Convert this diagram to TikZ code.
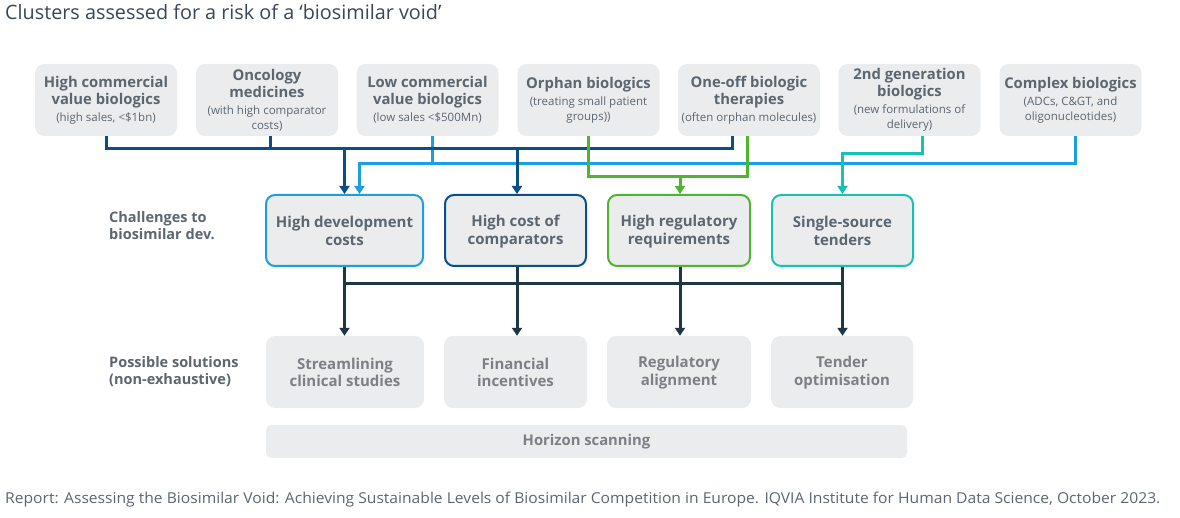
\documentclass[tikz,border=0pt]{standalone}
\usepackage{fontspec}
\setmainfont{Open Sans}
\usetikzlibrary{arrows.meta}
\definecolor{dblue}{HTML}{0B4F8A}
\definecolor{lblue}{HTML}{1AA0E0}
\definecolor{grn}{HTML}{4DB530}
\definecolor{teal}{HTML}{17C1B5}
\definecolor{navy}{HTML}{1D3744}
\definecolor{boxfill}{HTML}{EBECEE}
\definecolor{txtgray}{HTML}{5B6670}
\definecolor{soltxt}{HTML}{7C8086}
\definecolor{titlec}{HTML}{3A4656}
\newcommand{\ttlf}{\fontsize{14.8}{17}\selectfont\bfseries}
\newcommand{\subf}{\fontsize{11.5}{15}\selectfont}
\newcommand{\lst}{\rule[-0.8pt]{0pt}{13.8pt}}
\begin{document}
\begin{tikzpicture}[x=1pt,y=-1pt,
  topbox/.style={rounded corners=9pt, fill=boxfill, minimum width=142pt, minimum height=72pt, inner sep=0pt, align=center, text=txtgray, font=\fontsize{14.8}{17}\selectfont},
  chalbox/.style={rounded corners=9pt, fill=boxfill, line width=2pt, minimum height=71pt, inner sep=0pt, align=center, text=txtgray, font=\fontsize{15}{18}\selectfont\bfseries},
  solbox/.style={rounded corners=9pt, fill=boxfill, minimum height=72pt, inner sep=0pt, align=center, text=soltxt, font=\fontsize{15}{17.5}\selectfont\bfseries},
  sidelabel/.style={anchor=west, align=left, inner sep=0pt, text=txtgray, font=\fontsize{14.5}{17.5}\selectfont\bfseries},
  conn/.style={line width=3pt},
  arr/.style={-{Triangle[width=10pt,length=8pt]}}
]
\useasboundingbox (0,0) rectangle (1180,518);

% title
\node[anchor=base west, inner sep=0pt, text=titlec, font=\fontsize{19.8}{24}\selectfont] (title) at (5,19.5) {Clusters assessed for a risk of a ‘biosimilar void’};

% top boxes
\node[topbox] (t1) at (106,100) {{\ttlf High commercial}\\{\ttlf value biologics}\\{\subf (high sales, <\$1bn)}};
\node[topbox] (t2) at (267,100) {{\ttlf Oncology}\\{\ttlf medicines}\\{\subf (with high comparator}\\[-2pt]{\subf costs)}};
\node[topbox] (t3) at (427.5,100) {{\ttlf Low commercial}\\{\ttlf value biologics}\\{\subf (low sales <\$500Mn)}};
\node[topbox] (t4) at (588.5,100) {{\ttlf Orphan biologics}\\{\subf (treating small patient}\\[-2pt]{\subf groups))}};
\node[topbox] (t5) at (749,100) {{\ttlf One-off biologic}\\{\ttlf therapies}\\{\subf (often orphan molecules)}};
\node[topbox] (t6) at (909.5,100) {{\ttlf 2nd generation}\\{\ttlf biologics}\\{\subf (new formulations of}\\[-2pt]{\subf delivery)}};
\node[topbox] (t7) at (1070.5,100) {{\ttlf Complex biologics}\\{\subf (ADCs, C\&GT, and}\\[-2pt]{\subf oligonucleotides)}};

% challenge boxes
\node[chalbox, draw=lblue, minimum width=157pt] (c1) at (344.5,230.5) {\lst High development\\\lst costs};
\node[chalbox, draw=dblue, minimum width=141pt] (c2) at (515.5,230.5) {\lst High cost of\\\lst comparators};
\node[chalbox, draw=grn, minimum width=142pt] (c3) at (679,230.5) {\lst High regulatory\\\lst requirements};
\node[chalbox, draw=teal, minimum width=141pt] (c4) at (842.5,230.5) {\lst Single-source\\\lst tenders};

% solution boxes
\node[solbox, minimum width=158pt] (s1) at (345,372) {\lst Streamlining\\\lst clinical studies};
\node[solbox, minimum width=143pt] (s2) at (515.5,372) {\lst Financial\\\lst incentives};
\node[solbox, minimum width=144pt] (s3) at (679,372) {\lst Regulatory\\\lst alignment};
\node[solbox, minimum width=142pt] (s4) at (842,372) {\lst Tender\\\lst optimisation};
\node[rounded corners=5pt, fill=boxfill, minimum width=641pt, minimum height=33pt, inner sep=0pt, text=soltxt, font=\fontsize{14.8}{17}\selectfont\bfseries] (h) at (586.5,441.5) {Horizon scanning};

% side labels
\node[sidelabel] (lab1) at (109,225.5) {Challenges to\\biosimilar dev.};
\node[sidelabel] (lab2) at (109,371.5) {Possible solutions\\(non-exhaustive)};

% junction coordinates
\coordinate (dbY) at (0,149);
\coordinate (lbY) at (0,164);
\coordinate (gY) at (0,177);
\coordinate (tY) at (0,154);
\coordinate (nY) at (0,284);

% light blue (drawn first)
\draw[conn, lblue] ([xshift=4.5pt]t3.south) -- ([xshift=4.5pt]t3.south |- lbY);
\draw[conn, lblue, arr] ([xshift=4.5pt]t7.south) |- ([xshift=15pt]c1.north |- lbY) -- ([xshift=15pt]c1.north);

% dark blue
\draw[conn, dblue] (t1.south) |- ([xshift=-17pt]t5.south |- dbY) -- ([xshift=-17pt]t5.south);
\draw[conn, dblue] ([xshift=3pt]t2.south) -- ([xshift=3pt]t2.south |- dbY);
\draw[conn, dblue, arr] (c1.north |- dbY) -- (c1.north);
\draw[conn, dblue, arr] ([xshift=1.5pt]c2.north |- dbY) -- ([xshift=1.5pt]c2.north);

% green
\draw[conn, grn] (t4.south) |- ([xshift=-2pt]t5.south |- gY) -- ([xshift=-2pt]t5.south);
\draw[conn, grn, arr] ([xshift=1pt]c3.north |- gY) -- ([xshift=1pt]c3.north);

% teal
\draw[conn, teal, arr] ([xshift=12.5pt]t6.south) |- (c4.north |- tY) -- (c4.north);

% navy bottom
\draw[conn, navy] (c1.south |- nY) -- (c4.south |- nY);
\draw[conn, navy, arr] (c1.south) -- (s1.north -| c1.south);
\draw[conn, navy, arr] ([xshift=1.5pt]c2.south) -- ([xshift=1.5pt]c2.south |- s2.north);
\draw[conn, navy, arr] ([xshift=1pt]c3.south) -- ([xshift=1pt]c3.south |- s3.north);
\draw[conn, navy, arr] (c4.south) -- (c4.south |- s4.north);

% footer
\node[anchor=base west, inner sep=0pt, text=txtgray, font=\fontsize{15}{18}\selectfont] (foot) at (5,503) {\resizebox{1155pt}{\height}{Report: Assessing the Biosimilar Void: Achieving Sustainable Levels of Biosimilar Competition in Europe. IQVIA Institute for Human Data Science, October 2023.}};
\end{tikzpicture}
\end{document}
